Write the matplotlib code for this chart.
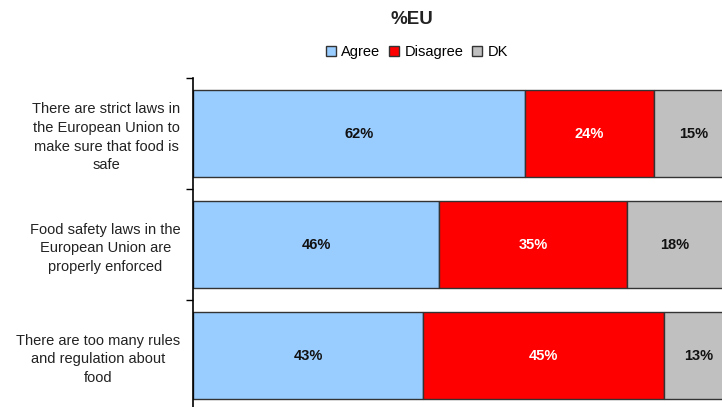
import numpy as np
import matplotlib
matplotlib.use("Agg")
import matplotlib.pyplot as plt
from matplotlib.patches import Patch

plt.rcParams['font.family'] = ['Liberation Sans', 'DejaVu Sans']

# data
statements = ["There are strict laws in\nthe European Union to\nmake sure that food is\nsafe",
              "Food safety laws in the\nEuropean Union are\nproperly enforced",
              "There are too many rules\nand regulation about\nfood"]
agree = [62, 46, 43]
disagree = [24, 35, 45]
dk = [15, 18, 13]
series_names = ["Agree", "Disagree", "DK"]
colours = ["#99CCFF", "#FF0000", "#C0C0C0"]
text_colours = ["#111111", "white", "#111111"]

fig = plt.figure(figsize=(7.22, 4.07), dpi=100)
W, H = 722, 407
# axes left edge at 193px, top at 78px; extends past the right and bottom edges
ax = fig.add_axes([193 / W, 1 - 411 / H, 541 / W, 333 / H])

y = np.arange(len(statements))
left = np.zeros(len(statements))
for vals, name, col, tcol in zip([agree, disagree, dk], series_names, colours, text_colours):
    bars = ax.barh(y, vals, left=left, height=0.78, color=col,
                   edgecolor="#333333", linewidth=1.0, label=name)
    for b, v in zip(bars, vals):
        ax.text(b.get_x() + b.get_width() / 2, b.get_y() + b.get_height() / 2,
                f"{v}%", ha="center", va="center", fontsize=10.5,
                fontweight="bold", color=tcol)
    left = left + np.array(vals)

ax.set_xlim(0, 101)
ax.set_ylim(2.5, -0.5)
ax.set_yticks(y)
ax.set_yticklabels(statements, fontsize=10.5, multialignment="center",
                   linespacing=1.42, color="#222222")
ax.tick_params(axis="y", which="major", length=0, pad=9)
ax.set_yticks([-0.5, 0.5, 1.5, 2.5], minor=True)
ax.tick_params(axis="y", which="minor", length=5, width=1, direction="out")
ax.set_xticks([])
for s in ["top", "right", "bottom"]:
    ax.spines[s].set_visible(False)
ax.spines["left"].set_linewidth(1.2)

fig.text(412 / W, 1 - 20 / H, "%EU", ha="center", va="center",
         fontsize=13.5, fontweight="bold", color="#222222")

handles = [Patch(facecolor=c, edgecolor="#333333", linewidth=1.0) for c in colours]
fig.legend(handles, series_names, loc="center", bbox_to_anchor=(417 / W, 1 - 52 / H),
           ncol=3, frameon=False, fontsize=10.5, handlelength=0.7, handleheight=0.7,
           handletextpad=0.35, columnspacing=0.6)

fig.savefig("out.png", dpi=100)
